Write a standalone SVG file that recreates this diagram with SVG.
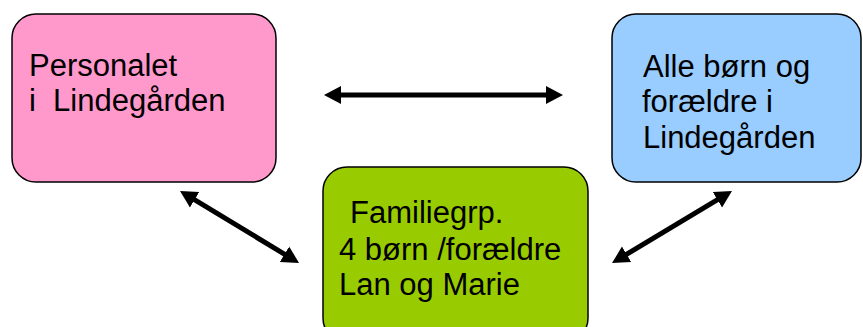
<svg xmlns="http://www.w3.org/2000/svg" width="863" height="327" viewBox="0 0 863 327">
<style>
.box{stroke:#000;stroke-width:1.5}
.lbl{font-family:"Liberation Sans",Arial,sans-serif;font-size:31px;fill:#000;white-space:pre}
.arr{stroke:#000;stroke-width:5;fill:none;marker-start:url(#ah);marker-end:url(#ah)}
</style>
<defs>
<marker id="ah" markerUnits="userSpaceOnUse" markerWidth="18" markerHeight="20" refX="7" refY="9" orient="auto-start-reverse" viewBox="0 0 18 18">
<path d="M0,0 L17,9 L0,18 Z" fill="#000"/>
</marker>
</defs>
<g id="personalet">
<rect class="box" x="12" y="14" width="264" height="168" rx="24" fill="#FF99CC"/>
<text class="lbl" xml:space="preserve"><tspan x="29" y="76">Personalet</tspan><tspan x="29" y="111">i  Lindegården</tspan></text>
</g>
<g id="alle">
<rect class="box" x="612" y="14" width="249" height="168" rx="24" fill="#99CCFF"/>
<text class="lbl"><tspan x="643" y="77">Alle børn og</tspan><tspan x="642" y="112">forældre i</tspan><tspan x="643" y="148">Lindegården</tspan></text>
</g>
<g id="familiegrp">
<rect class="box" x="323" y="167" width="265" height="175" rx="24" fill="#99CC00"/>
<text class="lbl"><tspan x="350" y="223">Familiegrp.</tspan><tspan x="339" y="260">4 børn /forældre</tspan><tspan x="339" y="295">Lan og Marie</tspan></text>
</g>
<g id="connectors">
<line class="arr" x1="334" y1="95" x2="553" y2="95"/>
<line class="arr" x1="188.6" y1="196.2" x2="290.5" y2="257.8"/>
<line class="arr" x1="723.4" y1="196.1" x2="620.6" y2="257.9"/>
</g>
</svg>
